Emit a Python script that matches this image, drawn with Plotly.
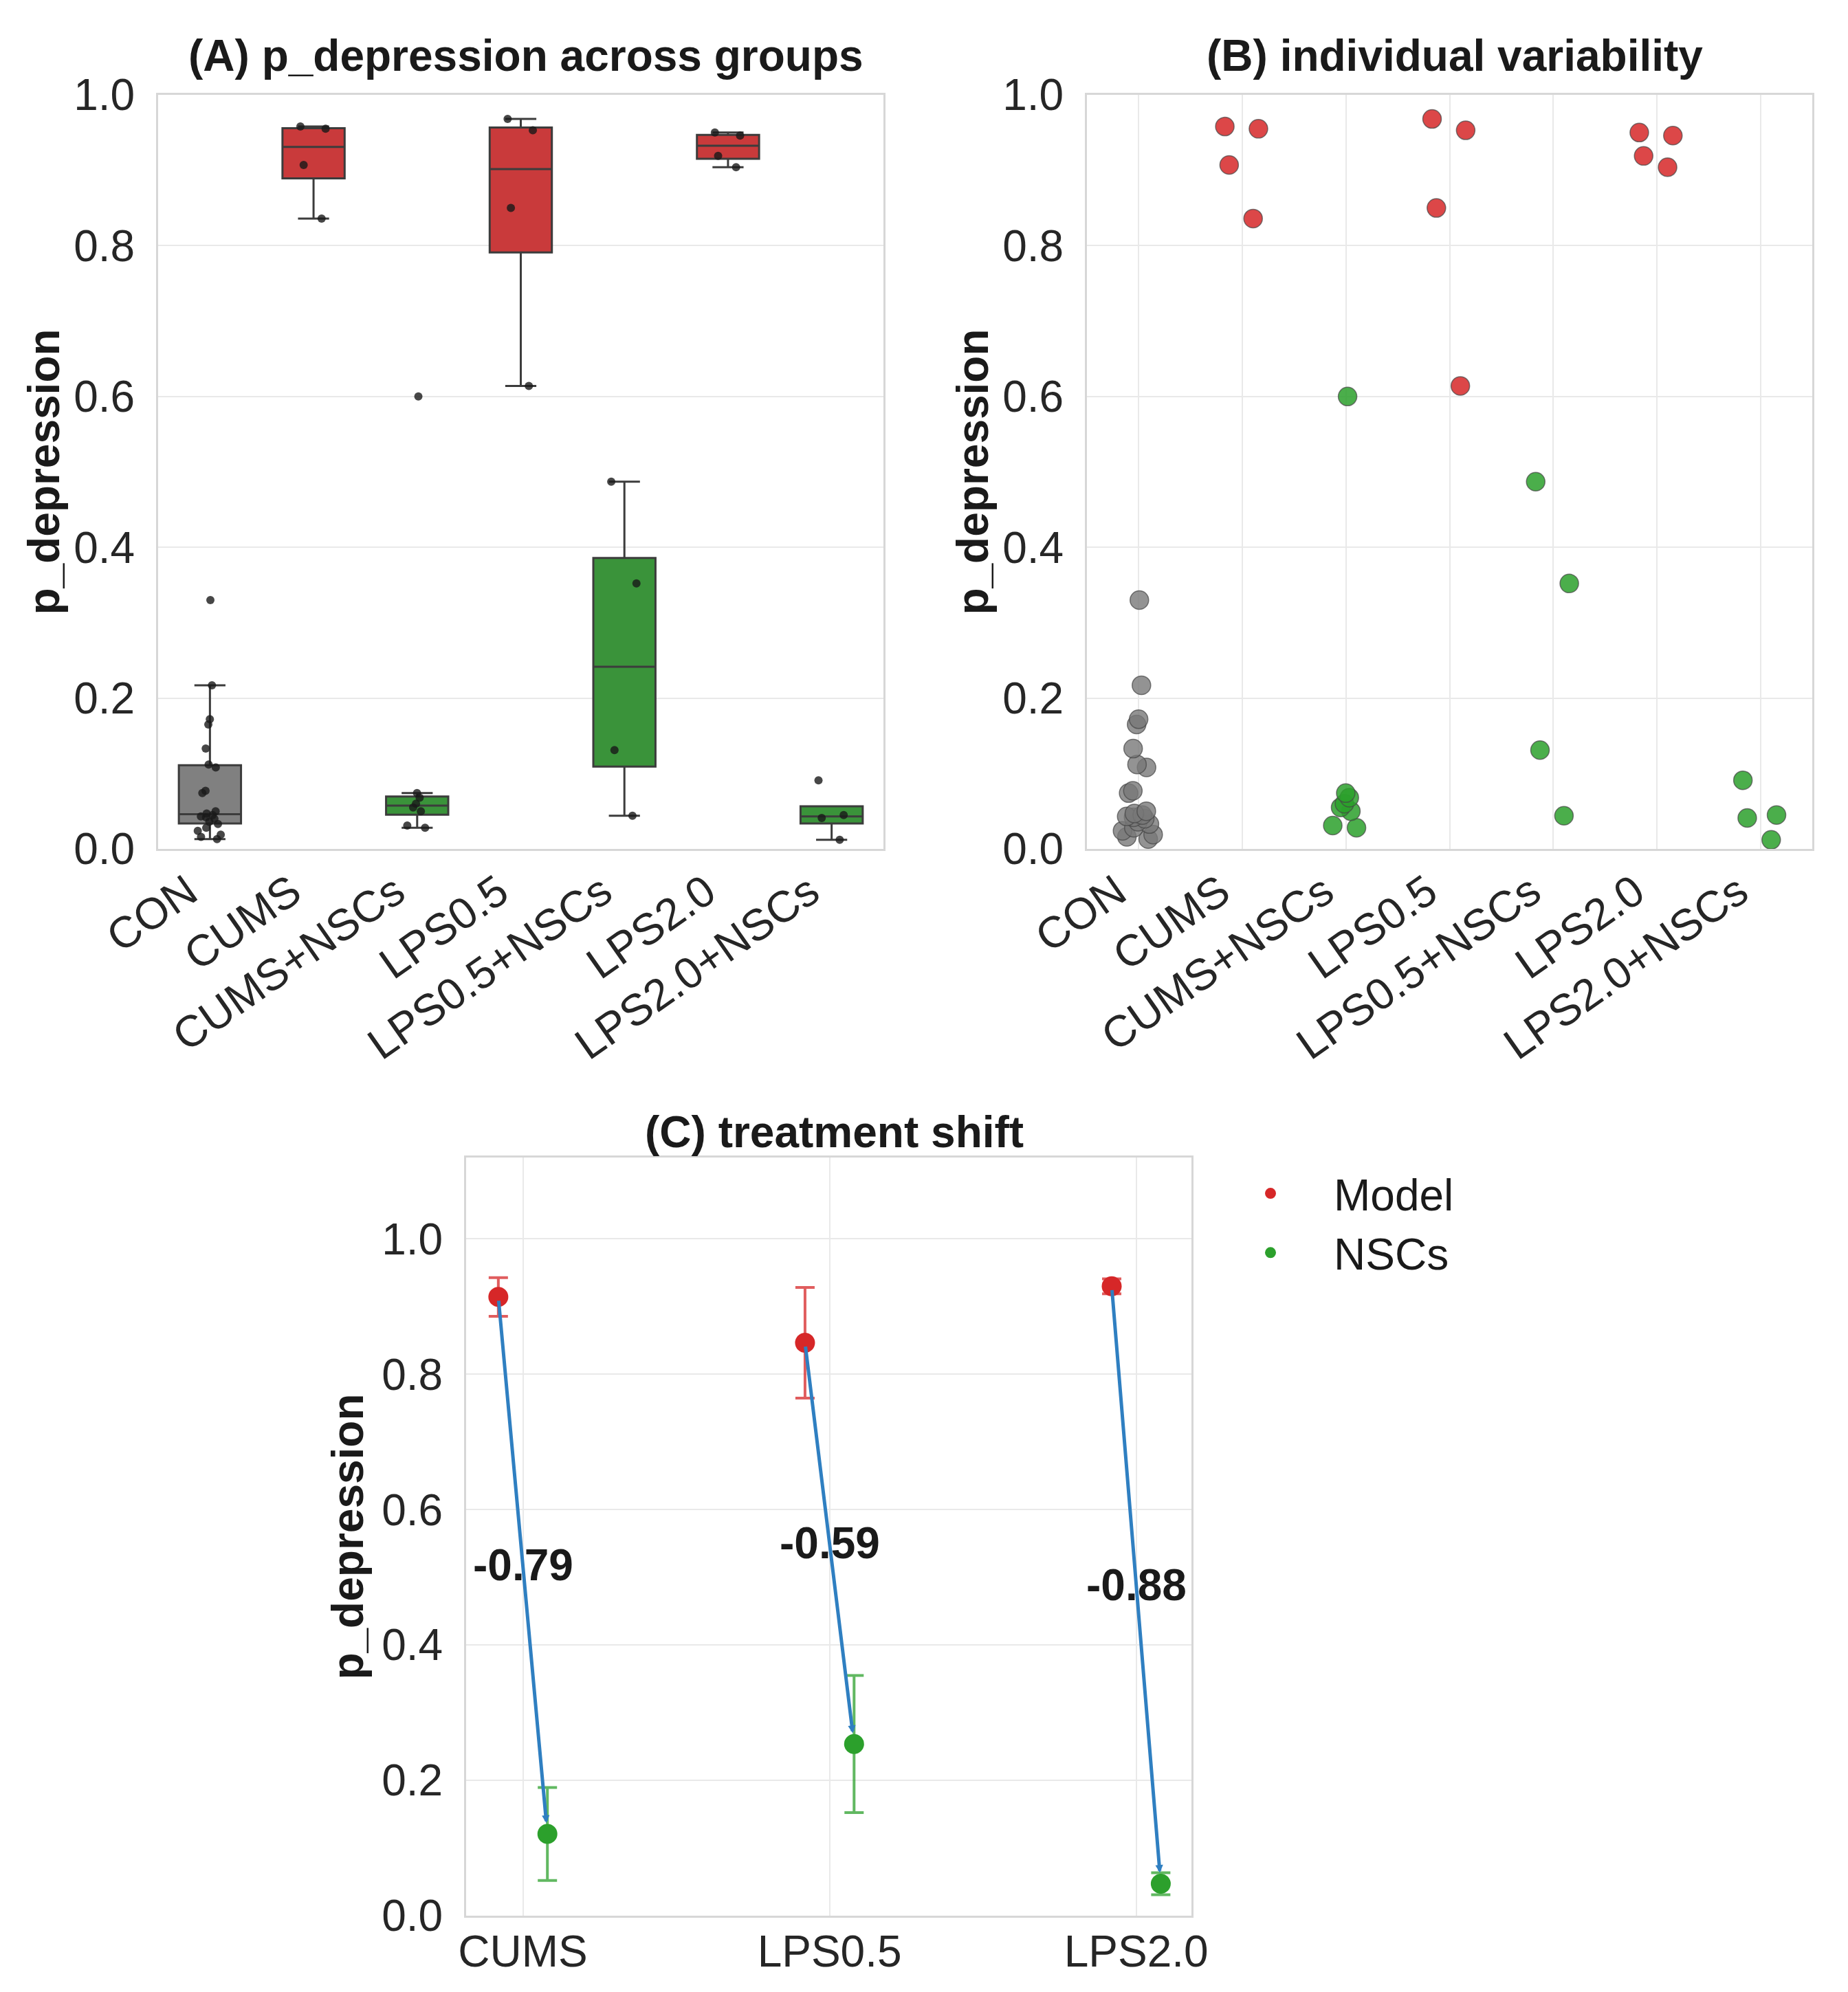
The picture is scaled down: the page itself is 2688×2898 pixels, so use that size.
import numpy as np
import plotly.graph_objects as go

groups = ["CON", "CUMS", "CUMS+NSCs", "LPS0.5", "LPS0.5+NSCs", "LPS2.0", "LPS2.0+NSCs"]
con = [0.013, 0.016, 0.019, 0.024, 0.028, 0.033, 0.036, 0.040, 0.042, 0.043, 0.045,
       0.047, 0.050, 0.074, 0.077, 0.108, 0.112, 0.133, 0.165, 0.172, 0.217, 0.330]
cums = [0.836, 0.907, 0.955, 0.958]
cums_nscs = [0.028, 0.031, 0.050, 0.055, 0.060, 0.068, 0.074, 0.600]
lps05 = [0.614, 0.850, 0.953, 0.968]
lps05_nscs = [0.044, 0.131, 0.352, 0.487]
lps20 = [0.904, 0.919, 0.946, 0.950]
lps20_nscs = [0.012, 0.041, 0.045, 0.091]
values = [con, cums, cums_nscs, lps05, lps05_nscs, lps20, lps20_nscs]
kinds = ["control", "model", "nscs", "model", "nscs", "model", "nscs"]

# panel C pairs (model -> model+NSCs)
models = ["CUMS", "LPS0.5", "LPS2.0"]
treated = ["CUMS+NSCs", "LPS0.5+NSCs", "LPS2.0+NSCs"]

W, H = 2688, 2898
PAGE = 8  # default body margin of the html page
FONT = "Liberation Sans, Arial, sans-serif"
TICK = "#262626"
GRID = "#e9e9e9"
FRAME = "#d7d7d7"

box_fill = {"control": "#808080", "model": "#c93a3b", "nscs": "#3a933a"}
pt_fill = {"control": "rgba(120,120,120,0.8)", "model": "rgba(214,39,40,0.85)",
           "nscs": "rgba(44,160,44,0.85)"}


def dom_x(a, b):
    return [(a - PAGE) / W, (b - PAGE) / W]


def dom_y(top, bottom):
    return [1 - (bottom - PAGE) / H, 1 - (top - PAGE) / H]


def box_stats(v):
    v = np.sort(np.asarray(v, dtype=float))
    q1, med, q3 = np.percentile(v, [25, 50, 75])
    iqr = q3 - q1
    lo = v[v >= q1 - 1.5 * iqr].min()
    hi = v[v <= q3 + 1.5 * iqr].max()
    return q1, med, q3, lo, hi


fig = go.Figure()

# (A) boxes with strip points
for g, v, k in zip(groups, values, kinds):
    q1, med, q3, lo, hi = box_stats(v)
    fig.add_trace(go.Box(
        x=[g], q1=[q1], median=[med], q3=[q3], lowerfence=[lo], upperfence=[hi],
        fillcolor=box_fill[k], line=dict(color="#3c3c3c", width=3),
        width=0.6, whiskerwidth=0.5, boxpoints=False, showlegend=False,
        xaxis="x", yaxis="y"))
    fig.add_trace(go.Box(
        x=[g] * len(v), y=v, boxpoints="all", jitter=0.5, pointpos=0, width=0.6,
        fillcolor="rgba(0,0,0,0)", line=dict(color="rgba(0,0,0,0)", width=0),
        marker=dict(color="rgba(25,25,25,0.8)", size=12),
        showlegend=False, xaxis="x", yaxis="y"))

# (B) individual points
for g, v, k in zip(groups, values, kinds):
    fig.add_trace(go.Box(
        x=[g] * len(v), y=v, boxpoints="all", jitter=0.8, pointpos=0, width=0.5,
        fillcolor="rgba(0,0,0,0)", line=dict(color="rgba(0,0,0,0)", width=0),
        marker=dict(color=pt_fill[k], size=27,
                    line=dict(color="rgba(70,70,70,0.7)", width=1.5)),
        showlegend=False, xaxis="x2", yaxis="y2"))

# (C) treatment shift: mean +/- SEM
lookup = dict(zip(groups, values))
m_mean = [np.mean(lookup[g]) for g in models]
m_sem = [np.std(lookup[g], ddof=1) / np.sqrt(len(lookup[g])) for g in models]
n_mean = [np.mean(lookup[g]) for g in treated]
n_sem = [np.std(lookup[g], ddof=1) / np.sqrt(len(lookup[g])) for g in treated]
idx = np.arange(len(models))
off = 0.08

for i in idx:
    fig.add_annotation(x=i, y=(m_mean[i] + n_mean[i]) / 2, xref="x3", yref="y3",
                       text="<b>%.2f</b>" % (n_mean[i] - m_mean[i]), showarrow=False,
                       font=dict(family=FONT, size=64, color="#1a1a1a"))
    fig.add_annotation(x=i + off, y=n_mean[i], ax=i - off, ay=m_mean[i],
                       xref="x3", yref="y3", axref="x3", ayref="y3", text="",
                       showarrow=True, arrowhead=2, arrowsize=0.45, arrowwidth=5,
                       arrowcolor="#2f7fc1", standoff=16, startstandoff=4)

fig.add_trace(go.Scatter(
    x=idx - off, y=m_mean, mode="markers", name="Model",
    marker=dict(color="#d62728", size=29),
    error_y=dict(type="data", array=m_sem, color="rgba(214,39,40,0.75)",
                 thickness=4, width=14),
    xaxis="x3", yaxis="y3"))
fig.add_trace(go.Scatter(
    x=idx + off, y=n_mean, mode="markers", name="NSCs",
    marker=dict(color="#2ca02c", size=29),
    error_y=dict(type="data", array=n_sem, color="rgba(44,160,44,0.75)",
                 thickness=4, width=14),
    xaxis="x3", yaxis="y3"))

axis_common = dict(showline=True, mirror=True, linecolor=FRAME, linewidth=3,
                   zeroline=False, gridcolor=GRID, gridwidth=2, automargin=False,
                   tickfont=dict(family=FONT, size=64, color=TICK),
                   ticks="", ticklabelstandoff=18)
title_font = dict(family=FONT, size=64, color="#1a1a1a")
ytitle_ab = dict(text="<b>p_depression</b>", font=title_font, standoff=0)
ytitle_c = dict(text="<b>p_depression</b>", font=title_font, standoff=6)

fig.update_layout(
    width=W, height=H, margin=dict(l=0, r=0, t=0, b=0, autoexpand=False),
    paper_bgcolor="white", plot_bgcolor="white",
    font=dict(family=FONT, color=TICK),
    boxmode="overlay",
    xaxis=dict(axis_common, domain=dom_x(230, 1285), anchor="y", type="category",
               categoryorder="array", categoryarray=groups, range=[-0.5, 6.5],
               tickangle=-35, showgrid=False, ticklabelstandoff=-3, ticklabelshift=-32),
    yaxis=dict(axis_common, domain=dom_y(138, 1235), anchor="x", range=[0, 1],
               dtick=0.2, tickformat=".1f", showgrid=True, title=ytitle_ab),
    xaxis2=dict(axis_common, domain=dom_x(1581, 2636), anchor="y2", type="category",
                categoryorder="array", categoryarray=groups, range=[-0.5, 6.5],
                tickangle=-35, showgrid=True, ticklabelstandoff=-3, ticklabelshift=-32),
    yaxis2=dict(axis_common, domain=dom_y(138, 1235), anchor="x2", range=[0, 1],
                dtick=0.2, tickformat=".1f", showgrid=True, title=ytitle_ab),
    xaxis3=dict(axis_common, domain=dom_x(678, 1733), anchor="y3", range=[-0.185, 2.18],
                tickmode="array", tickvals=list(idx), ticktext=models, showgrid=True,
                ticklabelstandoff=-6),
    yaxis3=dict(axis_common, domain=dom_y(1684, 2787), anchor="x3", range=[0, 1.12],
                dtick=0.2, tickformat=".1f", showgrid=True, title=ytitle_c),
    legend=dict(x=1748 / W, y=1 - 1680 / H, xanchor="left", yanchor="top",
                font=title_font, bgcolor="rgba(0,0,0,0)", tracegroupgap=0,
                itemwidth=174),
)

titles = [("(A) p_depression across groups", 757, 73),
          ("(B) individual variability", 2108, 73),
          ("(C) treatment shift", 1205, 1639)]
for t, px, py in titles:
    fig.add_annotation(text="<b>%s</b>" % t, x=px / W, y=1 - py / H, xref="paper",
                       yref="paper", showarrow=False, xanchor="center", yanchor="middle",
                       font=title_font)

fig.write_html("out.html")
